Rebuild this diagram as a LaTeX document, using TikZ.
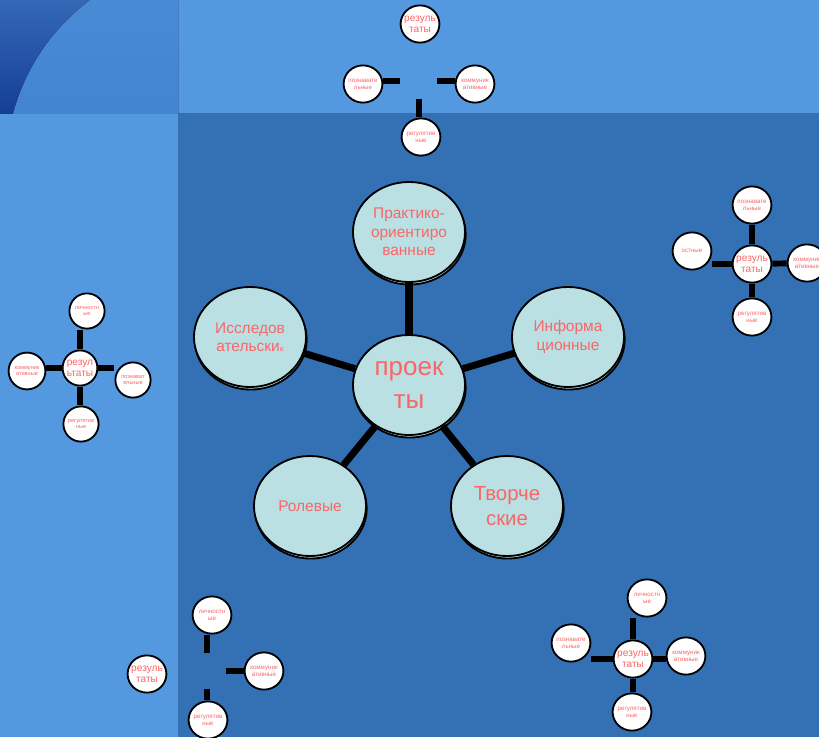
\documentclass[tikz,border=0pt]{standalone}
\usepackage{fontspec}
\setmainfont{Liberation Sans}
\usetikzlibrary{shapes.geometric,shadows}

\definecolor{bgdark}{RGB}{51,112,180}
\definecolor{bglight}{RGB}{84,152,224}
\definecolor{cornertop}{RGB}{52,104,182}
\definecolor{cornerbot}{RGB}{22,62,152}
\definecolor{arctop}{RGB}{74,140,214}
\definecolor{arcbot}{RGB}{56,120,200}
\definecolor{petal}{RGB}{186,224,228}
\definecolor{salmon}{RGB}{250,102,102}

\begin{document}
\begin{tikzpicture}[x=0.025cm,y=-0.025cm,
    kind/.style={ellipse,draw=black,line width=1.3pt,fill=petal,minimum width=2.8cm,minimum height=2.5cm,
      inner sep=0pt,align=center,text=salmon,font=\fontsize{11}{13}\selectfont,
      copy shadow={shadow xshift=0.5pt,shadow yshift=-1.8pt,fill=petal,draw=black,line width=1.3pt}},
    spoke/.style={line width=5pt},
    res/.style={ellipse,draw=black,line width=1.3pt,fill=white,minimum width=0.97cm,minimum height=0.93cm,
      inner sep=-2.8pt,align=center,text=salmon,font=\fontsize{7.2}{7.8}\selectfont},
    uud/.style={res,font=\fontsize{4.4}{4.8}\selectfont},
    stub/.style={line width=4.2pt}]
      \clip (0,0) rectangle (819,737);
      % background panels
      \fill[bgdark] (0,0) rectangle (819,737);
      \fill[bglight] (0,0) rectangle (819,113);
      \fill[bglight] (0,113) rectangle (178,737);
      \fill[top color=cornertop,bottom color=cornerbot] (0,0) rectangle (178,113);
      \begin{scope}
        \clip (0,0) rectangle (178,113);
        \fill[top color=arctop,bottom color=arcbot] (216,168) circle (210);
      \end{scope}

      % main wheel
      \node[kind] (p) at (409,232) {Практико-\\ориентиро\\ванные};
      \node[kind] (i) at (568,337) {Информа\\ционные};
      \node[kind] (s) at (250,337) {Исследов\\ательски{\fontsize{5}{5}\selectfont е}};
      \node[kind] (r) at (310,506) {Ролевые};
      \node[kind,font=\fontsize{14.5}{18}\selectfont] (t) at (507,506) {Творче\\ские};
      \node[kind,font=\fontsize{18.5}{23}\selectfont] (c) at (409,385) {проек\\ты};
      \draw[spoke] (c) -- (p);
      \draw[spoke] (c) -- (i);
      \draw[spoke] (c) -- (s);
      \draw[spoke] (c) -- (r);
      \draw[spoke] (c) -- (t);

      % top
      \node[res] (ra) at (420,24) {резуль\\таты};
      \node[uud] (pa) at (363,84) {познавате\\льные};
      \node[uud] (ka) at (475,84) {коммуник\\ативные};
      \node[uud] (ga) at (421,137) {регулятив\\ные};
      \coordinate (a1) at (400,81); \coordinate (a2) at (437,81); \coordinate (a3) at (419,99);
      \draw[stub] (a1) -- (a1 -| pa.east);
      \draw[stub] (a2) -- (a2 -| ka.west);
      \draw[stub] (a3) -- (a3 |- ga.north);

      % right
      \node[res] (rb) at (752,264) {резуль\\таты};
      \node[uud] (pb) at (752,205) {познавате\\льные};
      \node[uud] (ob) at (692,251) {остные};
      \node[uud] (kb) at (807,263) {коммуник\\ативные};
      \node[uud] (gb) at (752,317) {регулятив\\ные};
      \draw[stub] (rb) -- (pb);
      \draw[stub] (rb) -- (kb);
      \draw[stub] (rb) -- (gb);
      \draw[stub] (rb.west) -- (rb.west -| ob.east);

      % left
      \node[res,minimum width=0.87cm,minimum height=0.88cm] (rc) at (80,368) {резул\\ьтаты};
      \node[uud,minimum width=0.88cm,minimum height=0.88cm,font=\fontsize{4}{4.6}\selectfont] (lc) at (87,311) {личностн\\ые};
      \node[uud,minimum width=0.92cm,minimum height=0.92cm,font=\fontsize{4}{4.6}\selectfont] (kc) at (27,371) {коммуник\\ативные};
      \node[uud,minimum width=0.88cm,minimum height=0.88cm,font=\fontsize{4}{4.6}\selectfont] (pc) at (133,380) {познават\\ельные};
      \node[uud,minimum width=0.88cm,minimum height=0.88cm,font=\fontsize{4}{4.6}\selectfont] (gc) at (81,424) {регулятив\\ные};
      \draw[stub] (rc.north) -- (rc.north |- lc.south);
      \draw[stub] (rc.west) -- (rc.west -| kc.east);
      \draw[stub] (rc.east) -- (rc.east -| pc.west);
      \draw[stub] (rc.south) -- (rc.south |- gc.north);

      % bottom left
      \node[res] (rd) at (147,674) {резуль\\таты};
      \node[uud] (ld) at (212,615) {личностн\\ые};
      \node[uud] (kd) at (264,671) {коммуник\\ативные};
      \node[uud] (gd) at (208,720) {регулятив\\ные};
      \coordinate (d1) at (207,653); \coordinate (d2) at (226,671); \coordinate (d3) at (207,689);
      \draw[stub] (d1) -- (d1 |- ld.south);
      \draw[stub] (d2) -- (d2 -| kd.west);
      \draw[stub] (d3) -- (d3 |- gd.north);

      % bottom right
      \node[res] (re) at (633,659) {резуль\\таты};
      \node[uud] (le) at (647,598) {личностн\\ые};
      \node[uud] (pe) at (571,643) {познавате\\льные};
      \node[uud] (ke) at (686,656) {коммуник\\ативные};
      \node[uud] (ge) at (632,712) {регулятив\\ные};
      \draw[stub] (re.north) -- (re.north |- le.south);
      \draw[stub] (re.west) -- (re.west -| pe.east);
      \draw[stub] (re.east) -- (re.east -| ke.west);
      \draw[stub] (re.south) -- (re.south |- ge.north);
    \end{tikzpicture}
\end{document}
